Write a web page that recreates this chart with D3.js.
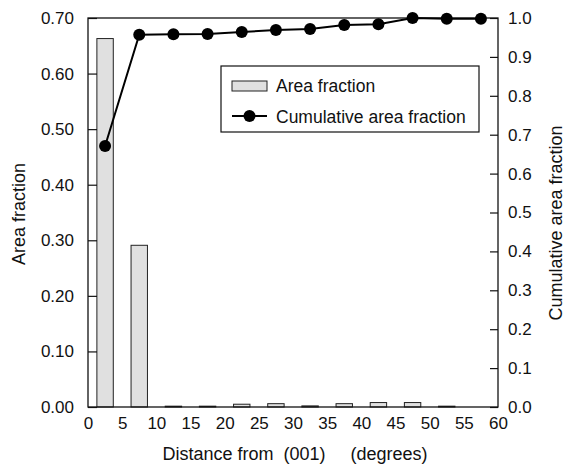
<!DOCTYPE html>
<html>
<head>
<meta charset="utf-8">
<script src="https://cdn.jsdelivr.net/npm/d3@7"></script>
<style>
  body { margin: 0; background: #fff; }
  text { font-family: "Liberation Sans", Arial, sans-serif; fill: #111; }
</style>
</head>
<body>
<div id="chart"></div>
<script>
// bin centres (degrees from 001)
var binCenters = [2.5, 7.5, 12.5, 17.5, 22.5, 27.5, 32.5, 37.5, 42.5, 47.5, 52.5, 57.5];
var areaFraction = [0.663, 0.291, 0.0015, 0.0015, 0.005, 0.006, 0.002, 0.006, 0.008, 0.008, 0.0015, 0.0];
var cumFraction = [0.671, 0.957, 0.958, 0.959, 0.964, 0.969, 0.972, 0.982, 0.984, 1.0, 0.998, 0.998];
var xTicks = [0, 5, 10, 15, 20, 25, 30, 35, 40, 45, 50, 55, 60];
var leftTicks = [0, 0.1, 0.2, 0.3, 0.4, 0.5, 0.6, 0.7];
var rightTicks = [0, 0.1, 0.2, 0.3, 0.4, 0.5, 0.6, 0.7, 0.8, 0.9, 1.0];

var svgWidth = 565;
var svgHeight = 464;
var margin = { top: 18, right: 67, bottom: 57, left: 88 };
var chartWidth = svgWidth - margin.left - margin.right;
var chartHeight = svgHeight - margin.top - margin.bottom;

var svg = d3.select("#chart").append("svg")
  .attr("width", svgWidth)
  .attr("height", svgHeight);

var chartGroup = svg.append("g")
  .attr("transform", `translate(${margin.left}, ${margin.top})`);

var xScale = d3.scaleLinear().domain([0, 60]).range([0, chartWidth]);
var yLeft = d3.scaleLinear().domain([0, 0.7]).range([chartHeight, 0]);
var yRight = d3.scaleLinear().domain([0, 1]).range([chartHeight, 0]);

var barW = 2.4; // degrees

var barData = binCenters.map((c, i) => ({ x: c, v: areaFraction[i] })).filter(d => d.v > 0);

// bars
chartGroup.selectAll("rect.bar")
  .data(barData)
  .enter()
  .append("rect")
  .classed("bar", true)
  .attr("x", d => xScale(d.x - barW / 2))
  .attr("y", d => yLeft(d.v))
  .attr("width", xScale(barW) - xScale(0))
  .attr("height", d => chartHeight - yLeft(d.v))
  .attr("fill", "#e0e0e0")
  .attr("stroke", "#222")
  .attr("stroke-width", 1);

// axes
var leftAxis = d3.axisLeft(yLeft).tickValues(leftTicks).tickSize(-9).tickPadding(14)
  .tickFormat(d3.format(".2f"));
var rightAxis = d3.axisRight(yRight).tickValues(rightTicks).tickSize(-8).tickPadding(10)
  .tickFormat(d3.format(".1f"));
var bottomAxis = d3.axisBottom(xScale).tickValues(xTicks).tickSize(0).tickPadding(10)
  .tickFormat(d3.format("d"));

var gl = chartGroup.append("g").call(leftAxis);
var gr = chartGroup.append("g").attr("transform", `translate(${chartWidth},0)`).call(rightAxis);
var gb = chartGroup.append("g").attr("transform", `translate(0,${chartHeight})`).call(bottomAxis);

[gl, gr, gb].forEach(function (g) {
  g.select(".domain").remove();
  g.selectAll("line").attr("stroke", "#111").attr("stroke-width", 1.2);
  g.selectAll("text").style("font-size", "17px").attr("fill", "#111");
});

// frame
chartGroup.append("rect")
  .attr("width", chartWidth)
  .attr("height", chartHeight)
  .attr("fill", "none")
  .attr("stroke", "#111")
  .attr("stroke-width", 1.3);

// cumulative line
var line = d3.line()
  .x((d, i) => xScale(binCenters[i]))
  .y(d => yRight(d));

chartGroup.append("path")
  .datum(cumFraction)
  .attr("d", line)
  .attr("fill", "none")
  .attr("stroke", "#000")
  .attr("stroke-width", 2);

chartGroup.selectAll("circle.pt")
  .data(cumFraction)
  .enter()
  .append("circle")
  .classed("pt", true)
  .attr("cx", (d, i) => xScale(binCenters[i]))
  .attr("cy", d => yRight(d))
  .attr("r", 6)
  .attr("fill", "#000");

// legend
var legend = svg.append("g").attr("transform", "translate(221,66)");
legend.append("rect")
  .attr("width", 258).attr("height", 66)
  .attr("fill", "#fff").attr("stroke", "#111").attr("stroke-width", 1.2);
legend.append("rect")
  .attr("x", 11).attr("y", 15).attr("width", 35).attr("height", 10)
  .attr("fill", "#e0e0e0").attr("stroke", "#222");
legend.append("text").attr("x", 55).attr("y", 26).text("Area fraction").style("font-size", "17.5px");
legend.append("line")
  .attr("x1", 11).attr("x2", 46).attr("y1", 50).attr("y2", 50)
  .attr("stroke", "#000").attr("stroke-width", 2);
legend.append("circle").attr("cx", 28.5).attr("cy", 50).attr("r", 6).attr("fill", "#000");
legend.append("text").attr("x", 55).attr("y", 57).text("Cumulative area fraction").style("font-size", "17.5px");

// axis titles
svg.append("text")
  .attr("transform", "translate(25,214) rotate(-90)")
  .attr("text-anchor", "middle")
  .style("font-size", "18px")
  .text("Area fraction");

svg.append("text")
  .attr("transform", "translate(562,223) rotate(-90)")
  .attr("text-anchor", "middle")
  .style("font-size", "18px")
  .text("Cumulative area fraction");

svg.append("text")
  .attr("x", 295)
  .attr("y", 460)
  .attr("text-anchor", "middle")
  .style("font-size", "18px")
  .style("white-space", "pre")
  .text("Distance from  (001)     (degrees)");
</script>
</body>
</html>
